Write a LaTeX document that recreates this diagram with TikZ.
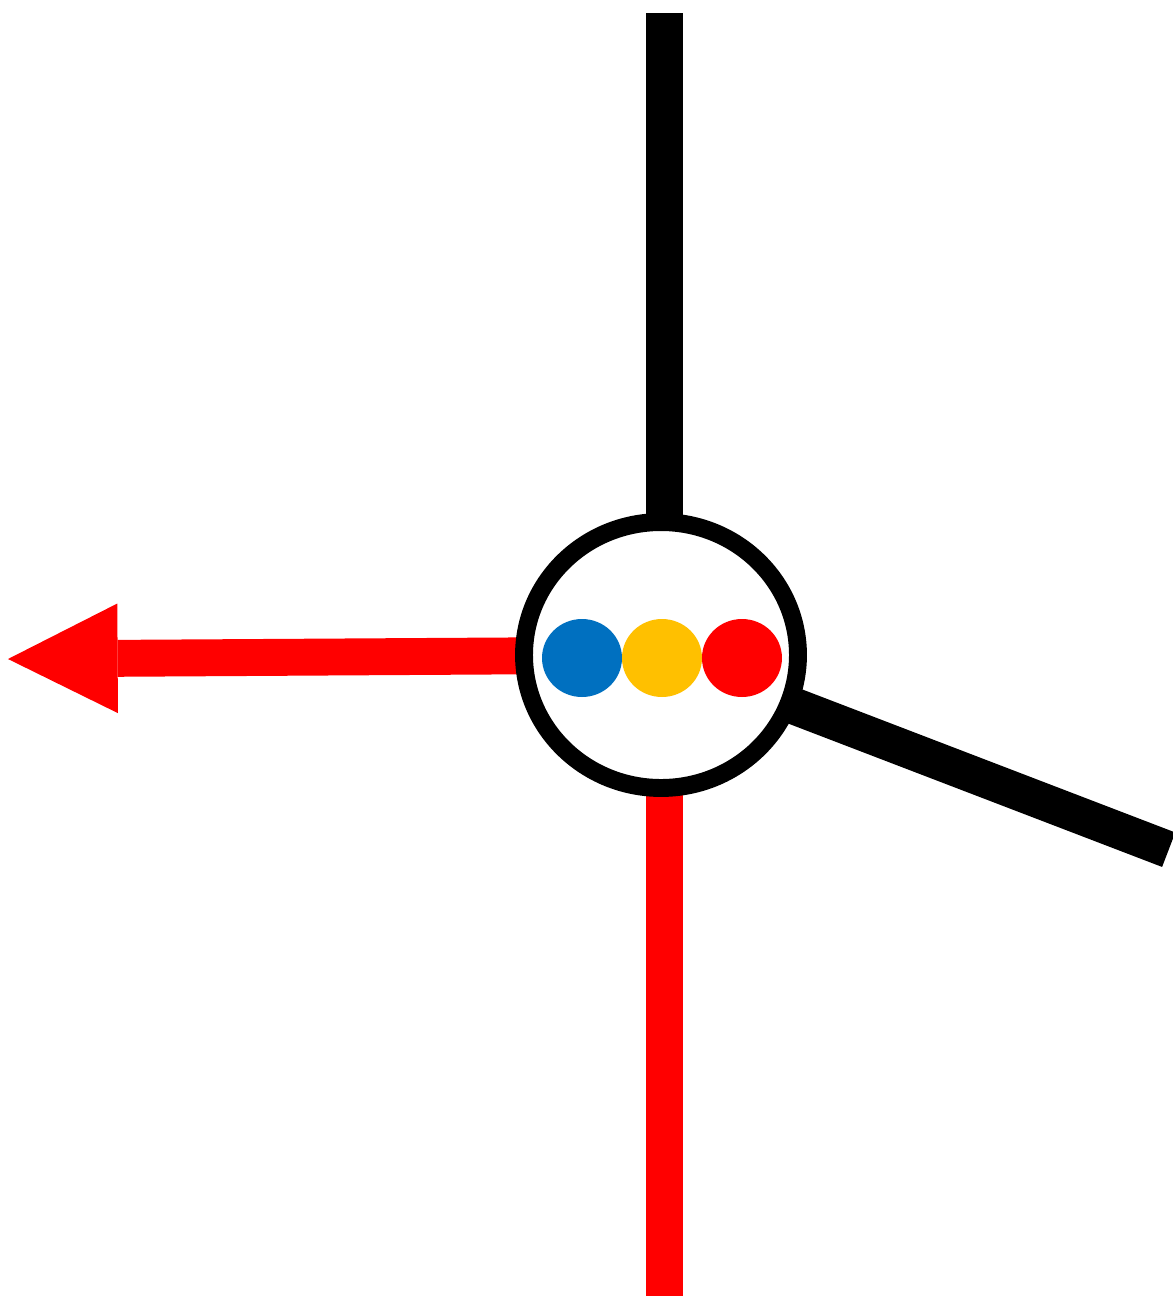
\documentclass[tikz,border=0pt]{standalone}
\usepackage{xcolor}
\usepackage{tikz}
\usetikzlibrary{
  arrows.meta,
  positioning,
  shapes.geometric,
  backgrounds
}
\definecolor{HubBlue}{HTML}{0070C0}
\definecolor{HubYellow}{HTML}{FFC000}
\definecolor{HubRed}{HTML}{FF0000}

\begin{document}
\begin{tikzpicture}[x=0.02cm,y=-0.02cm,
    spoke/.style={line width=21pt},
    dot/.style={ellipse,minimum width=1.6cm,minimum height=1.56cm,inner sep=0pt,outer sep=0pt}]
  \useasboundingbox (0,0) rectangle (1173,1296);
  % hub with its three dots
  \node[ellipse,draw=black,fill=white,line width=10.2pt,
        minimum width=5.48cm,minimum height=5.32cm] (hub) at (661,655) {};
  \node[dot,fill=HubBlue] (blue) at (582,658) {};
  \node[dot,fill=HubYellow,right=0pt of blue] (yellow) {};
  \node[dot,fill=HubRed,right=0pt of yellow] (red) {};
  % free ends of the spokes
  \coordinate (topend) at (664.3,13.3);
  \coordinate (rightend) at (1168.7,849.7);
  \coordinate (bottomend) at (664.4,1296);
  \coordinate (tipend) at (8,659);
  \begin{scope}[on background layer]
    \draw[spoke,black] (hub.center -| topend) -- (topend);
    \draw[spoke,black] (hub.center) -- (rightend);
    \draw[spoke,HubRed] (hub.center -| bottomend) -- (bottomend);
    \draw[spoke,HubRed,-{Triangle[length=62.4pt,width=62.4pt,line width=0pt]}]
      (hub.center) -- (tipend);
  \end{scope}
\end{tikzpicture}
\end{document}
